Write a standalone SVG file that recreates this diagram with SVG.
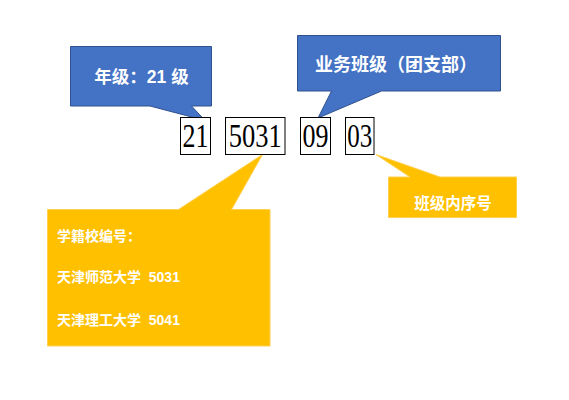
<svg xmlns="http://www.w3.org/2000/svg" width="569" height="400" viewBox="0 0 569 400">
<style>
.blue{fill:#4472C4;stroke:#2F528F;stroke-width:1}
.orange{fill:#FFC000;stroke:#FFD04D;stroke-width:1}
.lbl{font-family:"Liberation Sans","Noto Sans CJK SC",sans-serif;font-weight:bold;fill:#FFFFFF;white-space:pre}
.box{fill:#FFFFFF;stroke:#000000;stroke-width:1}
.num{font-family:"Liberation Serif","Noto Serif",serif;font-size:34px;fill:#000000;text-anchor:middle}
</style>
<rect width="569" height="400" fill="#FFFFFF"/>
<g id="callout-grade">
<path class="blue" d="M70.5,46.5 H211.5 V106 H191.5 L205,120.5 L150,106 H70.5 Z"/>
<text class="lbl" x="141.5" y="83" font-size="17.5" text-anchor="middle">年级：21 级</text>
</g>
<g id="callout-class">
<path class="blue" d="M297.5,35.5 H500.5 V91 H381.5 L318,118 L331.5,91 H297.5 Z"/>
<text class="lbl" x="396" y="71" font-size="18" text-anchor="middle">业务班级（团支部）</text>
</g>
<g id="callout-seq">
<path class="orange" d="M388.5,177 H410 L376,154.5 L440,177 H516.5 V217.5 H388.5 Z"/>
<text class="lbl" x="453" y="208.5" font-size="15.5" text-anchor="middle">班级内序号</text>
</g>
<g id="callout-school">
<path class="orange" d="M47.5,209.5 H178.5 L262.5,154.5 L231.5,209.5 H270 V346 H47.5 Z"/>
<text class="lbl" x="57" y="241" font-size="14" xml:space="preserve">学籍校编号：</text>
<text class="lbl" x="57" y="282" font-size="14" xml:space="preserve">天津师范大学  5031</text>
<text class="lbl" x="57" y="324.5" font-size="14" xml:space="preserve">天津理工大学  5041</text>
</g>
<g id="num-21">
<rect class="box" x="180.5" y="117.5" width="30" height="37"/>
<text class="num" x="195.5" y="147" textLength="26" lengthAdjust="spacingAndGlyphs">21</text>
</g>
<g id="num-5031">
<rect class="box" x="225.5" y="117.5" width="59.5" height="37"/>
<text class="num" x="255.3" y="147" textLength="53" lengthAdjust="spacingAndGlyphs">5031</text>
</g>
<g id="num-09">
<rect class="box" x="300.5" y="117.5" width="30" height="37"/>
<text class="num" x="315.5" y="147" textLength="26" lengthAdjust="spacingAndGlyphs">09</text>
</g>
<g id="num-03">
<rect class="box" x="345.5" y="117.5" width="28.5" height="37"/>
<text class="num" x="359.8" y="147" textLength="25" lengthAdjust="spacingAndGlyphs">03</text>
</g>
<g id="connectors"></g>
</svg>
